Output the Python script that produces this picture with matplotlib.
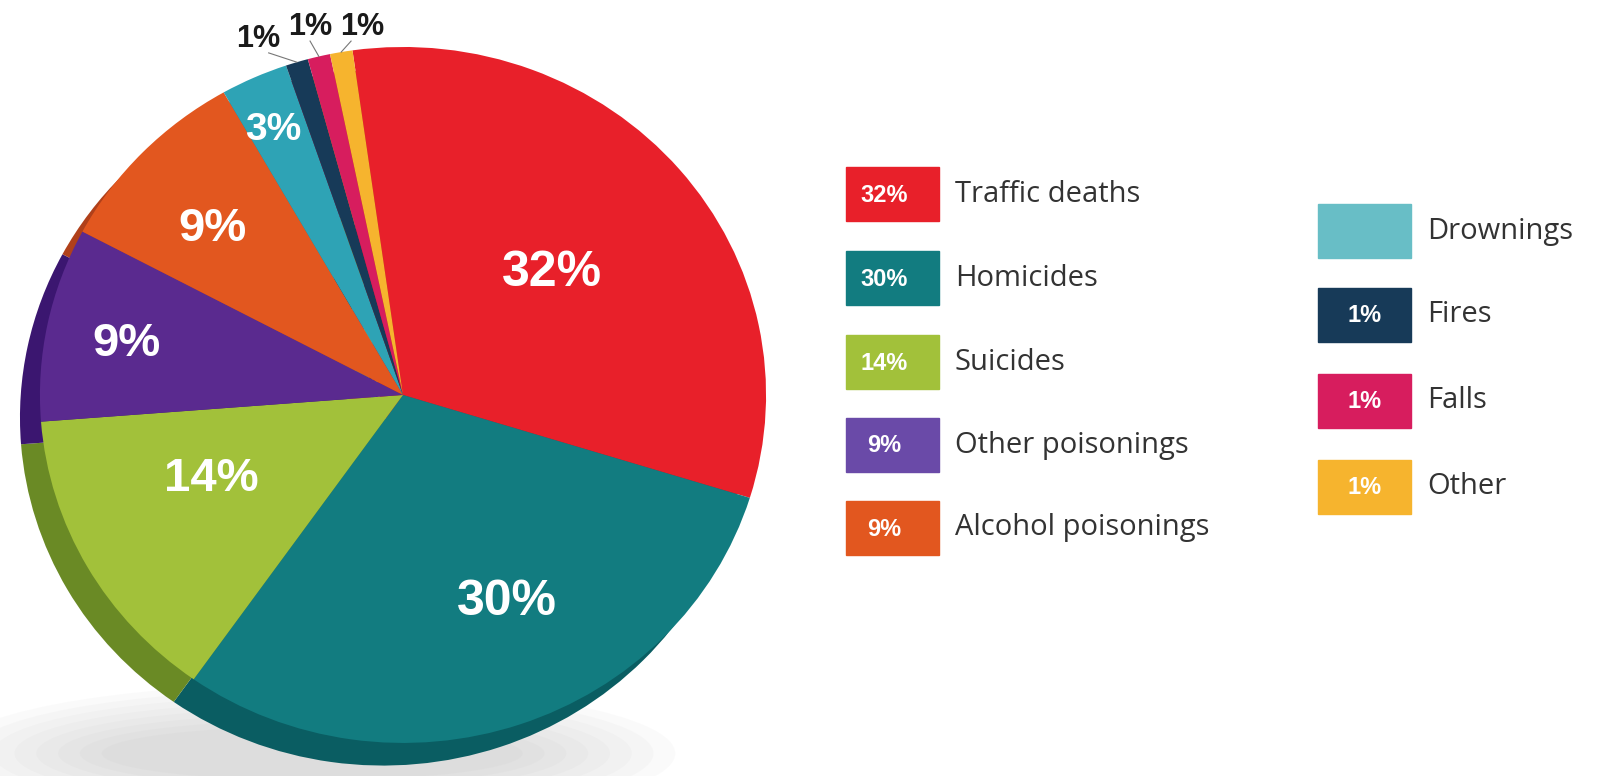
import numpy as np
import matplotlib
matplotlib.use('Agg')
import matplotlib.pyplot as plt
from matplotlib.patches import Rectangle, Ellipse

# data
causes = ['Traffic deaths', 'Homicides', 'Suicides', 'Other poisonings', 'Alcohol poisonings',
          'Drownings', 'Fires', 'Falls', 'Other']
shares = [32, 30, 14, 9, 9, 3, 1, 1, 1]
pie_labels = ['32%', '30%', '14%', '9%', '9%', '3%', '1%', '1%', '1%']
legend_tags = ['32%', '30%', '14%', '9%', '9%', '', '1%', '1%', '1%']

colors = ['#E8202A', '#127C80', '#A2C13A', '#5A2A8F', '#E2571F', '#2EA3B5', '#173A58', '#D71D5E', '#F6B42E']
dark = ['#B5171F', '#0A5D62', '#6A8A25', '#3B1670', '#B0401A', '#1E7C8B', '#0E2538', '#A3133F', '#C58C1E']
legend_colors = ['#E8202A', '#127C80', '#A2C13A', '#6A4AA8', '#E2571F', '#68BEC6', '#173A58', '#D71D5E', '#F6B42E']

cond = ['Liberation Sans', 'DejaVu Sans']
W, H = 1611, 776

fig = plt.figure(figsize=(W / 100, H / 100), dpi=100)
fig.patch.set_facecolor('white')

# legend layer in pixel coords
lg = fig.add_axes([0, 0, 1, 1])
lg.set_xlim(0, W)
lg.set_ylim(H, 0)
lg.axis('off')

left_rows = [194, 278, 362, 445, 528]
right_rows = [231, 315, 401, 487]
bw, bh = 93, 54
for i, name in enumerate(causes):
    if i < 5:
        bx, cy, tx = 846, left_rows[i], 955
        tag_x = bx + 38
    else:
        bx, cy, tx = 1318, right_rows[i - 5], 1427
        tag_x = bx + bw / 2
    lg.add_patch(Rectangle((bx, cy - bh / 2), bw, bh, color=legend_colors[i]))
    if legend_tags[i]:
        lg.text(tag_x, cy + 1, legend_tags[i], color='white', fontsize=17, fontweight='bold',
                ha='center', va='center', family='Liberation Sans')
    lg.text(tx, cy, name, color='#333333', fontsize=21, ha='left', va='center', family='Open Sans')

# pie
ax = fig.add_axes([0, 0, 806 / W, 1])

# soft shadow under the pie
for k in range(8):
    ax.add_patch(Ellipse((-0.25, -1.03), 2.0 - k * 0.12, 0.4 - k * 0.035,
                         color='#999999', alpha=0.045, lw=0, zorder=0))

# depth layer
ax.pie(shares, colors=dark, startangle=98, counterclock=False, center=(-0.055, -0.065),
       wedgeprops=dict(linewidth=0), frame=False)
wedges, _ = ax.pie(shares, colors=colors, startangle=98, counterclock=False,
                   wedgeprops=dict(linewidth=0), frame=False)

ax.set_aspect('auto')
ax.set_xlim(-1.110, 1.110)
ax.set_ylim(-1.095, 1.135)
ax.axis('off')

label_r = [0.54, 0.66, 0.58, 0.775, 0.71, 0.84]
label_da = [0, 7, -5, 1, 2, 1]
label_fs = [36, 36, 34, 34, 34, 28]
for i in range(6):
    w = wedges[i]
    a = np.deg2rad((w.theta1 + w.theta2) / 2 + label_da[i])
    ax.text(label_r[i] * np.cos(a), label_r[i] * np.sin(a), pie_labels[i], color='white',
            fontsize=label_fs[i], fontweight='bold', ha='center', va='center', family=cond)

# small slices: outside labels with leader lines
small_pos = [(-0.40, 1.023), (-0.256, 1.057), (-0.113, 1.057)]
for j, i in enumerate(range(6, 9)):
    w = wedges[i]
    a = np.deg2rad((w.theta1 + w.theta2) / 2)
    ex, ey = np.cos(a), np.sin(a)
    lx, ly = small_pos[j]
    ax.plot([ex, lx + 0.03 * (1 - j)], [ey, ly - 0.04], color='#777777', lw=0.8, zorder=5)
    ax.text(lx, ly, pie_labels[i], color='#1a1a1a', fontsize=22, fontweight='bold',
            ha='center', va='center', family=cond, zorder=6)

fig.savefig('out.png', dpi=100)
